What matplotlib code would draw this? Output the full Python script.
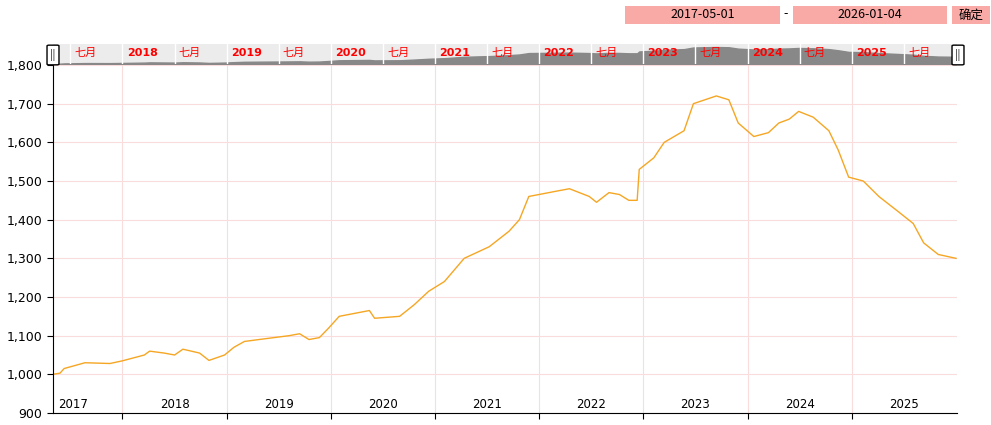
import numpy as np
import matplotlib.pyplot as plt
import matplotlib.patches as mpatches

plt.rcParams['font.family'] = ['Noto Sans CJK SC', 'DejaVu Sans']

# 数据（年份小数, 数值）
years = [2017.33, 2017.40, 2017.44, 2017.64, 2017.88, 2018.00, 2018.21, 2018.26, 2018.40,
         2018.50, 2018.58, 2018.74, 2018.83, 2018.98, 2019.07, 2019.17, 2019.31, 2019.60,
         2019.70, 2019.79, 2019.89, 2019.98, 2020.08, 2020.37, 2020.42, 2020.66, 2020.80,
         2020.94, 2021.09, 2021.28, 2021.52, 2021.71, 2021.81, 2021.90, 2022.19, 2022.29,
         2022.48, 2022.55, 2022.67, 2022.77, 2022.86, 2022.94, 2022.96, 2023.10, 2023.20,
         2023.39, 2023.48, 2023.70, 2023.82, 2023.91, 2024.06, 2024.20, 2024.30, 2024.40,
         2024.49, 2024.63, 2024.78, 2024.87, 2024.97, 2025.11, 2025.26, 2025.45, 2025.59,
         2025.69, 2025.83, 2026.00]
values = [1000, 1003, 1015, 1030, 1028, 1035, 1050, 1060, 1055,
          1050, 1065, 1055, 1036, 1050, 1070, 1085, 1090, 1100,
          1105, 1090, 1095, 1120, 1150, 1165, 1145, 1150, 1180,
          1215, 1240, 1300, 1330, 1370, 1400, 1460, 1475, 1480,
          1460, 1445, 1470, 1465, 1450, 1450, 1530, 1560, 1600,
          1630, 1700, 1720, 1710, 1650, 1615, 1625, 1650, 1660,
          1680, 1665, 1630, 1580, 1510, 1500, 1460, 1420, 1390,
          1340, 1310, 1300]
year_ticks = list(range(2018, 2026))
y_ticks = list(range(900, 1900, 100))
start_date, end_date = '2017-05-01', '2026-01-04'

x0, x1 = 2017.333, 2026.01
fig = plt.figure(figsize=(9.91, 4.25), dpi=100)
ax = fig.add_axes([53/991, 12/425, 904/991, 348/425])
ax.plot(years, values, color='#f5a623', lw=1)
ax.set_xlim(x0, x1)
ax.set_ylim(900, 1800)
ax.set_yticks(y_ticks)
ax.set_yticklabels([f'{v:,}' for v in y_ticks], fontsize=9, family='DejaVu Sans')
ax.set_xticks(year_ticks)
ax.set_xticklabels([])
ax.tick_params(axis='x', direction='out', length=4)
ax.tick_params(axis='y', length=4)
ax.grid(True, color='#fadcdc', lw=0.8)
for s in ['top', 'right']:
    ax.spines[s].set_visible(False)
# 年份标签放在每年区间中间
bounds = [x0] + year_ticks + [x1]
for i, yr in enumerate(range(2017, 2026)):
    a, b = bounds[i], bounds[i + 1]
    xm = a + 0.05 if yr == 2017 else (a + b) / 2
    ax.text(xm, 906, str(yr), ha='left' if yr == 2017 else 'center', va='bottom',
            fontsize=8.5, family='DejaVu Sans')

# 导航条
nav = fig.add_axes([53/991, 361/425, 904/991, 20/425])
nav.set_facecolor('#ececec')
nav.fill_between(years, values, 900, color='#888888')
nav.set_xlim(x0, x1)
nav.set_ylim(990, 1850)
nav.set_xticks([])
nav.set_yticks([])
for s in nav.spines.values():
    s.set_visible(False)
for yr in range(2017, 2026):
    if yr > 2017:
        nav.axvline(yr, color='white', lw=1)
        nav.text(yr + 0.04, 0.55, str(yr), transform=nav.get_xaxis_transform(), color='red',
                 fontsize=8, fontweight='bold', va='center', family='DejaVu Sans')
    nav.axvline(yr + 0.5, color='white', lw=1)
    nav.text(yr + 0.54, 0.55, '七月', transform=nav.get_xaxis_transform(), color='red',
             fontsize=8, va='center')
for xh in [53, 958]:
    fig.patches.append(mpatches.FancyBboxPatch(((xh - 4) / 991, 361 / 425), 8 / 991, 18 / 425,
                       boxstyle='round,pad=0.002', fc='white', ec='black', lw=1,
                       transform=fig.transFigure))
    fig.text(xh / 991, 370 / 425, '||', ha='center', va='center', fontsize=7)

# 日期控件
for (l, r, t) in [(625, 780, start_date), (793, 947, end_date), (952, 990, '确定')]:
    fig.patches.append(mpatches.Rectangle((l / 991, 401 / 425), (r - l) / 991, 18 / 425,
                       fc='#f9aaa6', ec='none', transform=fig.transFigure))
    fig.text((l + r) / 2 / 991, 410 / 425, t, ha='center', va='center', fontsize=9)
fig.text(786 / 991, 411 / 425, '-', ha='center', va='center', fontsize=9)

fig.savefig('out.png', dpi=100)
